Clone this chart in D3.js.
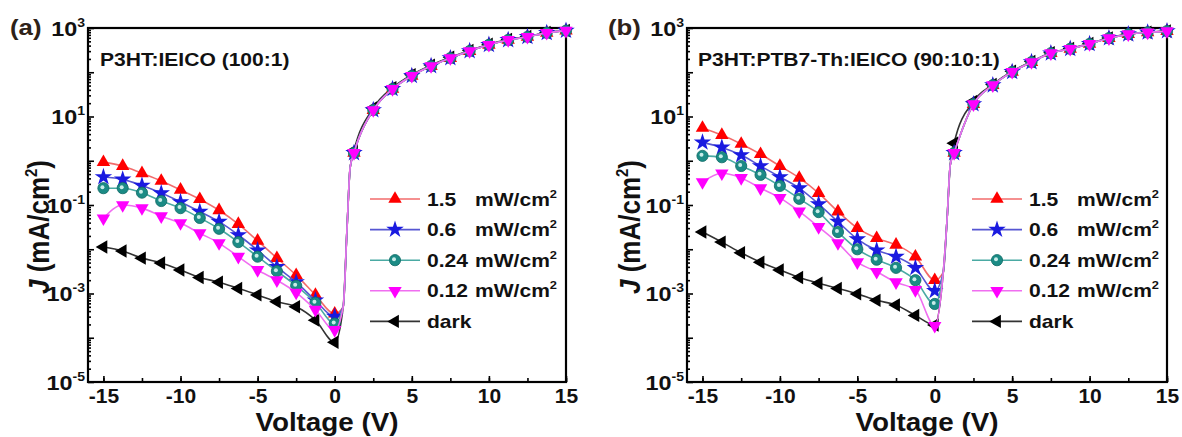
<!DOCTYPE html>
<html>
<head>
<meta charset="utf-8">
<script src="https://cdnjs.cloudflare.com/ajax/libs/d3/7.8.5/d3.min.js"></script>
<style>
  body { margin: 0; background: #fff; }
  text { font-family: "Liberation Sans", Arial, sans-serif; font-weight: bold; fill: #111; }
</style>
</head>
<body>
<div id="chart"></div>
<script>
// ---- data: J in mA/cm^2 vs voltage in V
var voltsNeg  = [-15, -13.75, -12.5, -11.25, -10, -8.75, -7.5, -6.25, -5, -3.75, -2.5, -1.25, 0];
var voltsTurn = [0.55, 0.8, 1.0];   // line only (no markers) through the steep rise
var voltsPos  = [1.25, 2.5, 3.75, 5, 6.25, 7.5, 8.75, 10, 11.25, 12.5, 13.75, 15];

var xTicks = [-15, -10, -5, 0, 5, 10, 15];
var yLabelExps = [3, 1, -1, -3, -5];
var legendNums = ["1.5", "0.6", "0.24", "0.12", "dark"];

// panel (a) P3HT:IEICO (100:1)
var redA  = [0.93, 0.76, 0.52, 0.35, 0.22, 0.135, 0.076, 0.037, 0.0155, 0.0063, 0.0026, 0.00093, 0.00035];
var blueA = [0.43, 0.38, 0.275, 0.186, 0.117, 0.071, 0.042, 0.021, 0.0095, 0.004, 0.0018, 0.0007, 0.0003];
var tealA = [0.24, 0.24, 0.19, 0.123, 0.085, 0.051, 0.029, 0.0145, 0.0068, 0.0032, 0.0015, 0.00062, 0.00021];
var magA  = [0.05, 0.1, 0.085, 0.056, 0.039, 0.023, 0.0138, 0.0068, 0.0034, 0.002, 0.00105, 0.00043, 0.00015];
var darkA = [0.0112, 0.0091, 0.0063, 0.0049, 0.0034, 0.0023, 0.0018, 0.0013, 0.00093, 0.00065, 0.0005, 0.00025, 0.000079];
var turnA = [0.0005, 0.03, 0.7];
var posA  = [1.5, 14, 42, 83, 138, 209, 302, 417, 537, 631, 776, 871];
var darkPosA = [1.7, 15.5, 45, 88, 145, 218, 312, 430, 550, 645, 790, 880];

// panel (b) P3HT:PTB7-Th:IEICO (90:10:1)
var redB  = [5.5, 3.8, 2.4, 1.41, 0.76, 0.41, 0.186, 0.071, 0.03, 0.0178, 0.0126, 0.0068, 0.002];
var blueB = [2.6, 2.0, 1.35, 0.76, 0.43, 0.24, 0.105, 0.042, 0.017, 0.0095, 0.0068, 0.0038, 0.00115];
var tealB = [1.29, 1.2, 0.76, 0.48, 0.27, 0.138, 0.069, 0.0245, 0.01, 0.0058, 0.0038, 0.002, 0.00058];
var magB  = [0.33, 0.52, 0.41, 0.24, 0.145, 0.072, 0.032, 0.0138, 0.0051, 0.0031, 0.0018, 0.0012, 0.000186];
var darkB = [0.0245, 0.0145, 0.0083, 0.0051, 0.0034, 0.0023, 0.0017, 0.0013, 0.00098, 0.0007, 0.00055, 0.00032, 0.000195];
var turnB = [0.003, 0.05, 0.8];
var posB  = [1.5, 19, 51, 102, 170, 269, 339, 437, 589, 724, 794, 851];
var darkPosB = [2.5, 22, 53, 105, 175, 275, 345, 445, 595, 730, 800, 855];

// ---- styles
var SX = 1.17;   // the figure is stretched a bit horizontally
var seriesStyle = [
  {marker: "up",     fill: "#ff0000", line: "#f26b6b"},
  {marker: "star",   fill: "#1a1ae0", line: "#5656d2"},
  {marker: "circle", fill: "#1b8b85", line: "#4aaaa3"},
  {marker: "down",   fill: "#ff00ff", line: "#f06ef0"},
  {marker: "left",   fill: "#000000", line: "#333333"}
];
var drawOrder = [4, 0, 1, 2, 3];

var panels = [
  {label: "(a)", title: "P3HT:IEICO (100:1)", left: 88, right: 566, top: 28, bottom: 382,
   labelX: 10, yTitleX: 49, titleX: 100, legX: 370,
   neg: [redA, blueA, tealA, magA, darkA], turn: turnA, pos: posA, darkPos: darkPosA},
  {label: "(b)", title: "P3HT:PTB7-Th:IEICO (90:10:1)", left: 687, right: 1167, top: 28, bottom: 382,
   labelX: 608, yTitleX: 640, titleX: 698, legX: 972,
   neg: [redB, blueB, tealB, magB, darkB], turn: turnB, pos: posB, darkPos: darkPosB}
];

var svg = d3.select("#chart")
  .append("svg")
    .attr("width", 1182)
    .attr("height", 437);
svg.append("rect").attr("width", 1182).attr("height", 437).attr("fill", "#fff");

function stext(g, x, y, str, size, anchor, sx) {
  return g.append("text")
    .attr("transform", "translate(" + x + "," + y + ") scale(" + (sx || SX) + ",1)")
    .attr("font-size", size)
    .attr("text-anchor", anchor || "start")
    .text(str);
}

function drawMarker(g, type, color, cx, cy) {
  if (type == "circle") {
    g.append("circle").attr("cx", cx).attr("cy", cy).attr("r", 5.6)
      .attr("fill", color).attr("stroke", "#0f6a65").attr("stroke-width", 0.8);
    g.append("circle").attr("cx", cx - 1).attr("cy", cy - 1).attr("r", 2)
      .attr("fill", "#c8ece8");
    return;
  }
  var sym = type == "star" ? d3.symbolStar : d3.symbolTriangle;
  var size = type == "star" ? 95 : 78;
  var rot = {up: 0, down: 180, left: -90, star: 0}[type];
  g.append("path")
    .attr("d", d3.symbol().type(sym).size(size)())
    .attr("transform", "translate(" + cx + "," + cy + ") rotate(" + rot + ")")
    .attr("fill", color);
}

function buildPoints(neg, turn, pos) {
  var pts = voltsNeg.map(function(v, i) { return {v: v, j: neg[i], mark: true}; });
  voltsTurn.forEach(function(v, i) { pts.push({v: v, j: turn[i], mark: false}); });
  voltsPos.forEach(function(v, i) { pts.push({v: v, j: pos[i], mark: true}); });
  return pts;
}

panels.forEach(function(p) {
  var g = svg.append("g");
  var x = d3.scaleLinear().domain([-16, 15]).range([p.left, p.right]);
  var y = d3.scaleLog().domain([1e-5, 1e3]).range([p.bottom, p.top]);

  // ---- axes, ticks pointing inward
  var minorY = [];
  for (var e = -5; e < 3; e++) for (var k = 2; k < 10; k++) minorY.push(k * Math.pow(10, e));
  g.append("g").attr("transform", "translate(" + p.left + ",0)")
    .call(d3.axisLeft(y).tickValues(minorY).tickSize(-3).tickFormat(""));
  g.append("g").attr("transform", "translate(" + p.left + ",0)")
    .call(d3.axisLeft(y).tickValues(d3.range(-5, 4).map(function(e) { return Math.pow(10, e); }))
      .tickSize(-6).tickFormat(""));
  g.append("g").attr("transform", "translate(0," + p.bottom + ")")
    .call(d3.axisBottom(x).tickValues(d3.range(-15, 15.1, 2.5)).tickSize(-4).tickFormat(""));
  var xa = g.append("g").attr("transform", "translate(0," + p.bottom + ")")
    .call(d3.axisBottom(x).tickValues(xTicks).tickSize(-6).tickPadding(7)
      .tickFormat(function(d) { return String(d); }));
  xa.selectAll("text").attr("font-size", 20).attr("transform", "scale(1.05,1)");
  g.selectAll(".domain").remove();
  g.selectAll(".tick line").attr("stroke", "#000").attr("stroke-width", 1.6);

  g.append("rect")
    .attr("x", p.left).attr("y", p.top)
    .attr("width", p.right - p.left).attr("height", p.bottom - p.top)
    .attr("fill", "none").attr("stroke", "#000").attr("stroke-width", 2.2);

  // y tick labels 10^n
  yLabelExps.forEach(function(e) {
    var t = stext(g, p.left - 3, y(Math.pow(10, e)) + 7.5, "10", 20, "end");
    t.append("tspan").attr("font-size", 12).attr("dy", -9).text(e);
  });

  // ---- series
  var line = d3.line()
    .x(function(d) { return x(d.v); })
    .y(function(d) { return y(d.j); })
    .curve(d3.curveMonotoneX);

  drawOrder.forEach(function(si) {
    var st = seriesStyle[si];
    var pts = buildPoints(p.neg[si], p.turn, si == 4 ? p.darkPos : p.pos);
    g.append("path").datum(pts)
      .attr("d", line)
      .attr("fill", "none")
      .attr("stroke", st.line)
      .attr("stroke-width", 1.6);
    pts.filter(function(d) { return d.mark; }).forEach(function(d) {
      drawMarker(g, st.marker, st.fill, x(d.v), y(d.j));
    });
  });

  // ---- texts
  var pl = stext(g, p.labelX, 35, p.label, 22, "start");
  pl.style("fill", "#2e2218");
  stext(g, p.titleX, 66, p.title, 18, "start");

  var yt = g.append("text")
    .attr("transform", "translate(" + p.yTitleX + "," + ((p.top + p.bottom) / 2 + 22) + ") scale(1.1,1) rotate(-90)")
    .attr("font-size", 26)
    .attr("text-anchor", "middle");
  yt.append("tspan").attr("font-style", "italic").text("J");
  yt.append("tspan").text(" (mA/cm");
  yt.append("tspan").attr("font-size", 15).attr("dy", -11).text("2");
  yt.append("tspan").attr("dy", 11).text(")");

  stext(g, (p.left + p.right) / 2, 431, "Voltage (V)", 26, "middle", 1.07);

  // ---- legend
  legendNums.forEach(function(num, i) {
    var ly = 199 + i * 30.6;
    var st = seriesStyle[i];
    g.append("line")
      .attr("x1", p.legX).attr("x2", p.legX + 50)
      .attr("y1", ly).attr("y2", ly)
      .attr("stroke", st.line).attr("stroke-width", 1.6);
    drawMarker(g, st.marker, st.fill, p.legX + 25, ly);
    stext(g, p.legX + 57, ly + 6.5, num, 18, "start");
    if (num != "dark") {
      var u = stext(g, p.legX + 105, ly + 6.5, "mW/cm", 18, "start");
      u.append("tspan").attr("font-size", 11).attr("dy", -8).text("2");
    }
  });
});
</script>
</body>
</html>
